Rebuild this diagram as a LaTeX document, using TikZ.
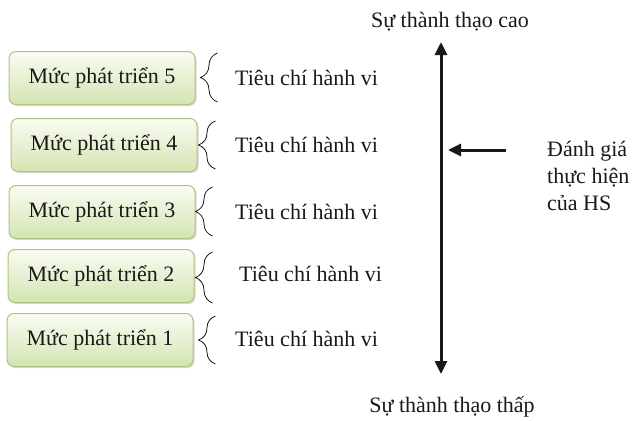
\documentclass[tikz,border=0pt]{standalone}
\usepackage{fontspec}
\setmainfont{Liberation Serif}
\usetikzlibrary{arrows.meta,decorations.pathreplacing,shadows}
\definecolor{lvltop}{RGB}{250,252,243}
\definecolor{lvlbot}{RGB}{212,228,178}
\definecolor{lvlline}{RGB}{172,198,128}
\definecolor{ink}{RGB}{25,25,25}

\begin{document}
\begin{tikzpicture}[x=1pt, y=-1pt,
  level/.style={draw=lvlline, line width=1pt, rounded corners=7pt,
                top color=lvltop, bottom color=lvlbot,
                minimum width=186pt, minimum height=53pt, inner sep=0pt,
                text=ink, font=\fontsize{22}{26}\selectfont,
                drop shadow={shadow xshift=1.5pt, shadow yshift=-1.5pt,
                             opacity=0.25, fill=black!60}},
  txt/.style={text=ink, inner sep=0pt, font=\fontsize{22}{26}\selectfont},
  crit/.style={txt, anchor=west},
  brc/.style={decorate, decoration={brace, amplitude=17pt}, line width=0.8pt, ink},
  arrow/.style={-{Triangle[length=13pt, width=12pt]}, line width=3pt, ink},
  darrow/.style={{Triangle[length=13pt, width=12pt]}-{Triangle[length=13pt, width=12pt]},
                 line width=3pt, ink},
]
  \useasboundingbox (0,0) rectangle (633,421);

  % Levels
  \node[level] (lvl5) at (102, 78) {Mức phát triển 5};
  \node[level] (lvl4) at (104, 145) {Mức phát triển 4};
  \node[level] (lvl3) at (102, 212) {Mức phát triển 3};
  \node[level] (lvl2) at (101, 276) {Mức phát triển 2};
  \node[level] (lvl1) at (100, 340) {Mức phát triển 1};

  % Criteria
  \node[crit] (crit5) at (235, 78) {Tiêu chí hành vi};
  \node[crit] (crit4) at (235, 145) {Tiêu chí hành vi};
  \node[crit] (crit3) at (235, 212) {Tiêu chí hành vi};
  \node[crit] (crit2) at (239, 274) {Tiêu chí hành vi};
  \node[crit] (crit1) at (235, 339) {Tiêu chí hành vi};

  % Braces
  \draw[brc] ([xshift=22pt, yshift=3pt]lvl5.south east) -- ([xshift=22pt, yshift=-2pt]lvl5.north east);
  \draw[brc] ([xshift=18pt, yshift=3pt]lvl4.south east) -- ([xshift=18pt, yshift=-3pt]lvl4.north east);
  \draw[brc] ([xshift=17pt, yshift=3pt]lvl3.south east) -- ([xshift=17pt, yshift=-2pt]lvl3.north east);
  \draw[brc] ([xshift=18pt, yshift=0pt]lvl2.south east) -- ([xshift=18pt, yshift=-3pt]lvl2.north east);
  \draw[brc] ([xshift=22pt, yshift=3pt]lvl1.south east) -- ([xshift=22pt, yshift=-3pt]lvl1.north east);

  % Scale
  \node[txt] (high) at (450, 22) {Sự thành thạo cao};
  \node[txt] (low) at (452, 407) {Sự thành thạo thấp};
  \coordinate (top) at (441, 42);
  \coordinate (bottom) at (441, 374);
  \draw[darrow] (bottom) -- (top);

  % Student performance
  \node[txt, anchor=west, align=left, font=\fontsize{22}{27}\selectfont] (perf) at (547, 176)
    {Đánh giá\\thực hiện\\của HS};
  \coordinate (tail) at (506, 150);
  \coordinate (head) at (448, 150);
  \draw[arrow] (tail) -- (head);
\end{tikzpicture}
\end{document}
